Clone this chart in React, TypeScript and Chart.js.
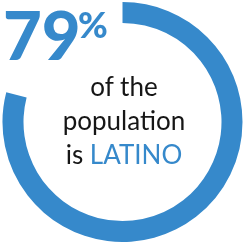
import React, { useEffect, useRef } from "react";
import { Chart, registerables } from "chart.js";

Chart.register(...registerables);

const categories = ["Latino", "Other"];
const shares = [79, 21];
const bigLabel = "79";
const bigSuffix = "%";
const lines = ["of the", "population"];
const lastLinePrefix = "is ";
const lastLineHighlight = "LATINO";

const BLUE = "#3689cb";

export default function App() {
  const ref = useRef<HTMLCanvasElement | null>(null);

  useEffect(() => {
    document.body.style.margin = "0";
    const chart = new Chart(ref.current!, {
      type: "doughnut",
      data: {
        labels: categories,
        datasets: [
          {
            data: shares,
            backgroundColor: [BLUE, "rgba(0,0,0,0)"],
            borderWidth: 0,
          },
        ],
      },
      options: {
        responsive: false,
        animation: false,
        cutout: "82.5%",
        rotation: 0,
        layout: { padding: 2 },
        plugins: {
          legend: { display: false },
          tooltip: { enabled: false },
        },
      },
    });
    return () => chart.destroy();
  }, []);

  const font = "Lato, 'Open Sans', sans-serif";
  const bodyStyle: React.CSSProperties = {
    position: "absolute",
    left: 0,
    width: 248,
    textAlign: "center",
    fontFamily: font,
    fontSize: 26,
    lineHeight: "26px",
    color: "#161616",
    whiteSpace: "nowrap",
  };
  return (
    <div style={{ position: "relative", width: 245, height: 244, overflow: "hidden", background: "#fff" }}>
      <canvas ref={ref} width={245} height={244} style={{ position: "absolute", left: 0, top: 0 }} />
      <div
        style={{
          position: "absolute",
          left: 3,
          top: 1,
          fontFamily: font,
          fontWeight: 900,
          fontSize: 67,
          lineHeight: "67px",
          color: BLUE,
          whiteSpace: "nowrap",
        }}
      >
        {bigLabel}
      </div>
      <div
        style={{
          position: "absolute",
          left: 78,
          top: 6,
          fontFamily: font,
          fontWeight: 900,
          fontSize: 36,
          lineHeight: "36px",
          color: BLUE,
          whiteSpace: "nowrap",
        }}
      >
        {bigSuffix}
      </div>
      {lines.map((t, i) => (
        <div key={t} style={{ ...bodyStyle, top: 73 + i * 34 }}>
          {t}
        </div>
      ))}
      <div style={{ ...bodyStyle, top: 141 }}>
        {lastLinePrefix}
        <span style={{ color: BLUE }}>{lastLineHighlight}</span>
      </div>
    </div>
  );
}
